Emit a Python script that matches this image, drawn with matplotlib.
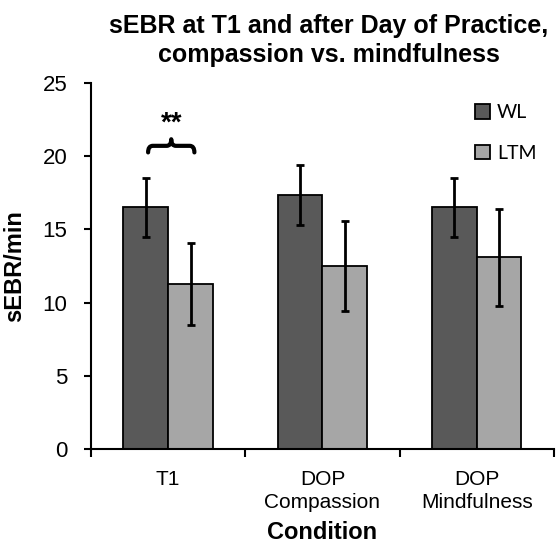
import matplotlib
matplotlib.use('Agg')
import matplotlib.pyplot as plt
from matplotlib.path import Path
from matplotlib.patches import PathPatch
import numpy as np

plt.rcParams['font.family'] = ['Liberation Sans', 'DejaVu Sans']

conditions = ['T1', 'DOP\nCompassion', 'DOP\nMindfulness']
wl_mean = [16.5, 17.35, 16.5]
wl_err = [2.0, 2.05, 2.0]
ltm_mean = [11.3, 12.5, 13.1]
ltm_err = [2.8, 3.1, 3.3]

fig = plt.figure(figsize=(5.57, 5.45), dpi=100)
ax = fig.add_axes([0.1634, 0.176, 0.831, 0.672])

x = np.arange(len(conditions))
w = 0.29
ax.bar(x - w / 2, wl_mean, w, yerr=wl_err, color='#595959', edgecolor='black',
       linewidth=1.3, capsize=3, error_kw=dict(elinewidth=2, capthick=2), label='WL')
ax.bar(x + w / 2, ltm_mean, w, yerr=ltm_err, color='#a6a6a6', edgecolor='black',
       linewidth=1.3, capsize=3, error_kw=dict(elinewidth=2, capthick=2), label='LTM')

ax.set_xlim(-0.5, 2.5)
ax.set_ylim(0, 25)
ax.set_yticks([0, 5, 10, 15, 20, 25])
ax.set_xticks(x)
ax.set_xticklabels(conditions, fontsize=15, linespacing=1.25)
ax.set_xticks([-0.5, 0.5, 1.5, 2.5], minor=True)
ax.tick_params(axis='x', which='major', length=0, pad=15)
ax.tick_params(axis='x', which='minor', length=6, width=1.5)
ax.tick_params(axis='y', labelsize=16, length=5, width=1.5, pad=12)
for s in ['top', 'right']:
    ax.spines[s].set_visible(False)
for s in ['left', 'bottom']:
    ax.spines[s].set_linewidth(1.5)

ax.set_ylabel('sEBR/min', fontsize=17, fontweight='bold', labelpad=12)
ax.set_xlabel('Condition', fontsize=17, fontweight='bold', labelpad=7)


# significance brace over T1
def brace(ax, a, b, y0, h, q=0.03):
    m = (a + b) / 2
    mid = y0 + h / 2
    verts = [(a, y0), (a, mid), (a + q, mid), (m - q, mid), (m, mid), (m, y0 + h),
             (m, mid), (m + q, mid), (b - q, mid), (b, mid), (b, y0)]
    codes = [Path.MOVETO, Path.CURVE3, Path.CURVE3, Path.LINETO, Path.CURVE3, Path.CURVE3,
             Path.CURVE3, Path.CURVE3, Path.LINETO, Path.CURVE3, Path.CURVE3]
    ax.add_patch(PathPatch(Path(verts, codes), fill=False, lw=3, edgecolor='black',
                           capstyle='round', joinstyle='round'))


brace(ax, -0.13, 0.17, 20.25, 0.9)
ax.text(0.02, 22.2, '**', ha='center', va='center', fontsize=20, fontweight='bold')

ax.legend(loc='upper right', bbox_to_anchor=(1.0, 0.99), frameon=False,
          prop={'family': 'Lato', 'size': 14}, handlelength=0.8, handleheight=0.8,
          labelspacing=1.2, handletextpad=0.35)

fig.text(0.59, 0.952, 'sEBR at T1 and after Day of Practice,', ha='center', va='center',
         fontsize=18, fontweight='bold')
fig.text(0.59, 0.899, 'compassion vs. mindfulness', ha='center', va='center',
         fontsize=18, fontweight='bold')

fig.savefig('out.png', dpi=100)
